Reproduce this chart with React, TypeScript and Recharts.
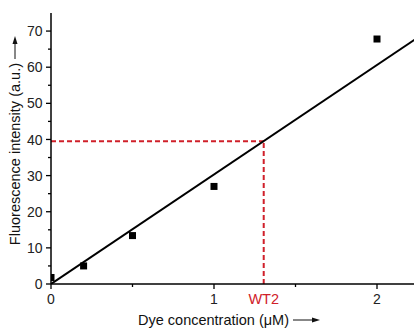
import React from 'react';
import { ComposedChart, Line, Scatter, XAxis, YAxis, ReferenceLine } from 'recharts';

// Measured points
const concentrations = [0, 0.2, 0.5, 1, 2];
const intensities = [1.8, 5, 13.4, 27, 67.8];
// Linear fit (through origin)
const fitX = [0, 2.23];
const fitY = [0, 67.6];
// WT2 reading
const wt2X = 1.305;
const wt2Y = 39.5;

const xTicks = [0, 0.5, 1, wt2X, 1.5, 2];
const xTickLabels: Record<string, string> = { '0': '0', '1': '1', '2': '2' };
const yTicks = [0, 5, 10, 15, 20, 25, 30, 35, 40, 45, 50, 55, 60, 65, 70];
const yTickLabels = [0, 10, 20, 30, 40, 50, 60, 70];

const points = concentrations.map((x, i) => ({ x, y: intensities[i] }));
const fit = fitX.map((x, i) => ({ x, y: fitY[i] }));

const FONT = 'Arial, "Liberation Sans", Helvetica, sans-serif';
const RED = '#d0202a';

const XTick = (props: any) => {
  const { x, y, payload } = props;
  const v = payload.value;
  if (Math.abs(v - wt2X) < 1e-6) {
    return (
      <text x={x} y={y + 19.5} textAnchor="middle" fill={RED} fontSize={14.5} fontFamily={FONT}>WT2</text>
    );
  }
  const label = xTickLabels[String(v)];
  const major = label !== undefined;
  return (
    <g>
      <line x1={x} x2={x} y1={y} y2={y + (major ? 5 : 3)} stroke="#000" strokeWidth={1.3} />
      {major && (
        <text x={x} y={y + 19.5} textAnchor="middle" fill="#222" fontSize={14} fontFamily={FONT}>{label}</text>
      )}
    </g>
  );
};

const YTick = (props: any) => {
  const { x, y, payload } = props;
  const v = payload.value;
  const major = yTickLabels.includes(v);
  return (
    <g>
      <line x1={x} x2={x - (major ? 5 : 3)} y1={y} y2={y} stroke="#000" strokeWidth={1.3} />
      {major && (
        <text x={x - 8.5} y={y} dy="0.36em" textAnchor="end" fill="#222" fontSize={14} fontFamily={FONT}>{v}</text>
      )}
    </g>
  );
};

const XLabel = (props: any) => {
  const vb = props.viewBox;
  const cx = vb.x + vb.width / 2;
  const endX = cx + 56.5;
  const by = vb.y + 41;
  const ay = by - 5;
  return (
    <g>
      <text x={endX} y={by} textAnchor="end" fill="#111" fontSize={14.5} fontFamily={FONT}>Dye concentration (μM)</text>
      <line x1={endX + 4} x2={endX + 25} y1={ay} y2={ay} stroke="#111" strokeWidth={1} />
      <polygon points={`${endX + 31},${ay} ${endX + 23},${ay - 2.5} ${endX + 23},${ay + 2.5}`} fill="#111" />
    </g>
  );
};

const YLabel = (props: any) => {
  const vb = props.viewBox;
  const cy = vb.y + vb.height / 2;
  const endY = cy - 85.5;
  const bx = 20;
  const ax = bx - 5;
  return (
    <g>
      <text x={bx} y={endY} transform={`rotate(-90, ${bx}, ${endY})`} textAnchor="end" fill="#111" fontSize={14.5} fontFamily={FONT}>Fluorescence intensity (a.u.)</text>
      <line x1={ax} x2={ax} y1={endY - 4} y2={endY - 21} stroke="#111" strokeWidth={1} />
      <polygon points={`${ax},${endY - 27} ${ax - 2.5},${endY - 19} ${ax + 2.5},${endY - 19}`} fill="#111" />
    </g>
  );
};

const Square = (props: any) => {
  const { cx, cy } = props;
  return <rect x={cx - 3.5} y={cy - 3.5} width={7} height={7} fill="#000" />;
};

export default function App() {
  return (
    <div style={{ position: 'absolute', left: 0, top: 0, background: '#fff' }}>
      <ComposedChart width={414} height={330} margin={{ top: 13, right: 0, bottom: 0, left: 0 }}>
        <XAxis
          dataKey="x"
          type="number"
          domain={[0, 2.227]}
          allowDataOverflow
          ticks={xTicks}
          interval={0}
          tick={<XTick />}
          tickLine={false}
          tickSize={0}
          tickMargin={0}
          height={46}
          axisLine={{ stroke: '#000', strokeWidth: 1.5 }}
          label={<XLabel />}
        />
        <YAxis
          dataKey="y"
          type="number"
          domain={[0, 75]}
          allowDataOverflow
          ticks={yTicks}
          interval={0}
          tick={<YTick />}
          tickLine={false}
          tickSize={0}
          tickMargin={0}
          width={51}
          axisLine={{ stroke: '#000', strokeWidth: 1.5 }}
          label={<YLabel />}
        />
        <ReferenceLine
          segment={[{ x: 0, y: wt2Y }, { x: wt2X, y: wt2Y }]}
          stroke={RED}
          strokeWidth={2}
          strokeDasharray="5 3"
          ifOverflow="visible"
        />
        <ReferenceLine
          segment={[{ x: wt2X, y: 0 }, { x: wt2X, y: wt2Y }]}
          stroke={RED}
          strokeWidth={2}
          strokeDasharray="5 3"
          ifOverflow="visible"
        />
        <Line data={fit} dataKey="y" stroke="#000" strokeWidth={2} dot={false} isAnimationActive={false} />
        <Scatter data={points} dataKey="y" shape={<Square />} isAnimationActive={false} />
      </ComposedChart>
    </div>
  );
}
